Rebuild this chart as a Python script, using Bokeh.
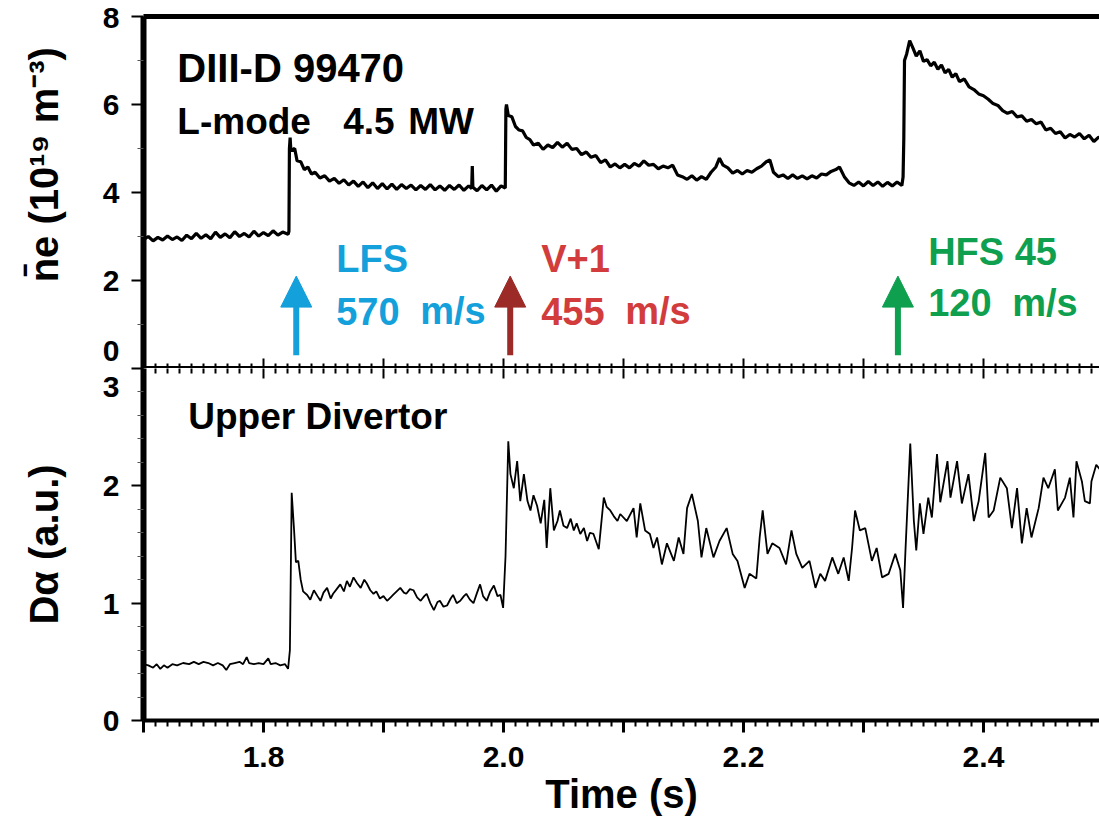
import numpy as np
from bokeh.plotting import figure
from bokeh.layouts import column
from bokeh.models import Range1d, LinearAxis, FixedTicker, Label, Arrow, NormalHead
from bokeh.embed import file_html
from bokeh.resources import INLINE

# ---------------- data ----------------
# line-averaged density (10^19 m^-3)
t_ne = [1.700, 1.704, 1.708, 1.712, 1.716, 1.720, 1.724, 1.728, 1.732, 1.736, 1.740, 1.744, 1.748, 1.752,
        1.756, 1.760, 1.764, 1.768, 1.772, 1.776, 1.780, 1.784, 1.788, 1.792, 1.796, 1.800, 1.804, 1.808,
        1.812, 1.816, 1.8205, 1.8212,
        1.8216, 1.8222, 1.8228, 1.8260, 1.8280, 1.8310, 1.8340, 1.8370, 1.8400, 1.8430, 1.8470, 1.8510,
        1.8550, 1.8590, 1.8630, 1.8670, 1.8710, 1.8750, 1.8790, 1.8830, 1.8870, 1.8910, 1.8950, 1.8990,
        1.9030, 1.9070, 1.9110, 1.9150, 1.9190, 1.9230, 1.9270, 1.9310, 1.9350, 1.9390, 1.9430, 1.9470,
        1.9510, 1.9550, 1.9590, 1.9630, 1.9670, 1.9710, 1.9735, 1.9740, 1.9745, 1.9780, 1.9820, 1.9860,
        1.9900, 1.9940, 1.9980, 2.0015,
        2.0020, 2.0025, 2.0040, 2.0070, 2.0100, 2.0130, 2.0160, 2.0190, 2.0220, 2.0250, 2.0290, 2.0330,
        2.0370, 2.0410, 2.0450, 2.0490, 2.0530, 2.0570, 2.0610, 2.0650, 2.0690, 2.0730, 2.0770, 2.0810,
        2.0850, 2.0890, 2.0930, 2.0970, 2.1010, 2.1050, 2.1090, 2.1130, 2.1170, 2.1210, 2.1250, 2.1290,
        2.1330, 2.1370, 2.1410, 2.1450, 2.1490, 2.1530, 2.1570, 2.1610, 2.1650, 2.1690, 2.1730, 2.1770,
        2.1800, 2.1830, 2.1870, 2.1910, 2.1950, 2.1990, 2.2030, 2.2070, 2.2110, 2.2150, 2.2190, 2.2220,
        2.2250, 2.2290, 2.2330, 2.2370, 2.2410, 2.2450, 2.2490, 2.2530, 2.2570, 2.2610, 2.2650, 2.2690,
        2.2730, 2.2770, 2.2800, 2.2840, 2.2880, 2.2920, 2.2960, 2.3000, 2.3040, 2.3080, 2.3120, 2.3160,
        2.3200, 2.3240, 2.3280, 2.3320, 2.3330,
        2.3336, 2.3342, 2.3360, 2.3385, 2.3410, 2.3440, 2.3470, 2.3500, 2.3530, 2.3560, 2.3590, 2.3620,
        2.3650, 2.3680, 2.3710, 2.3740, 2.3770, 2.3800, 2.3840, 2.3880, 2.3920, 2.3960, 2.4000, 2.4040,
        2.4080, 2.4120, 2.4160, 2.4200, 2.4240, 2.4280, 2.4320, 2.4360, 2.4400, 2.4440, 2.4480, 2.4520,
        2.4560, 2.4600, 2.4640, 2.4680, 2.4720, 2.4760, 2.4800, 2.4840, 2.4880, 2.4920, 2.4960, 2.5000]
ne = [2.93, 3.00, 2.90, 2.98, 2.92, 3.01, 2.93, 2.99, 2.91, 3.03, 2.95, 3.07, 2.96, 3.04,
      2.95, 3.10, 2.98, 3.06, 2.97, 3.11, 3.00, 3.07, 2.99, 3.12, 3.01, 3.09, 3.02, 3.13,
      3.03, 3.10, 3.05, 3.12,
      5.00, 5.25, 4.95, 5.00, 4.72, 4.70, 4.52, 4.58, 4.42, 4.46, 4.33, 4.38,
      4.26, 4.32, 4.21, 4.29, 4.17, 4.26, 4.14, 4.24, 4.11, 4.22, 4.09, 4.20,
      4.08, 4.19, 4.07, 4.18, 4.09, 4.17, 4.06, 4.16, 4.07, 4.18, 4.06, 4.15,
      4.05, 4.16, 4.07, 4.17, 4.05, 4.15, 4.09, 4.60, 4.12, 4.04, 4.16, 4.06,
      4.17, 4.03, 4.15, 4.10,
      5.90, 6.00, 5.75, 5.72, 5.50, 5.42, 5.40, 5.25, 5.20, 5.08, 5.12, 4.98,
      5.08, 5.02, 5.14, 5.03, 5.12, 4.98, 5.00, 4.86, 4.92, 4.80, 4.84, 4.68,
      4.74, 4.58, 4.65, 4.56, 4.64, 4.56, 4.66, 4.60, 4.72, 4.62, 4.64, 4.54,
      4.60, 4.56, 4.62, 4.40, 4.36, 4.30, 4.38, 4.28, 4.36, 4.30, 4.46, 4.58,
      4.78, 4.62, 4.56, 4.44, 4.50, 4.42, 4.50, 4.46, 4.54, 4.60, 4.70, 4.74,
      4.46, 4.36, 4.40, 4.32, 4.40, 4.32, 4.38, 4.31, 4.38, 4.33, 4.42, 4.40,
      4.48, 4.52, 4.58, 4.36, 4.22, 4.16, 4.24, 4.15, 4.25, 4.16, 4.24, 4.14,
      4.23, 4.15, 4.24, 4.16, 4.35,
      5.20, 7.00, 7.15, 7.45, 7.30, 7.10, 7.22, 6.98, 7.02, 6.88, 6.96, 6.80,
      6.90, 6.72, 6.80, 6.62, 6.70, 6.52, 6.58, 6.40, 6.34, 6.24, 6.20, 6.12,
      6.02, 5.98, 5.86, 5.80, 5.84, 5.72, 5.74, 5.62, 5.66, 5.56, 5.60, 5.42,
      5.46, 5.34, 5.38, 5.24, 5.32, 5.26, 5.34, 5.22, 5.30, 5.16, 5.26, 5.20]

# upper divertor D-alpha (a.u.)
t_da = [1.700, 1.704, 1.708, 1.711, 1.714, 1.717, 1.720, 1.724, 1.728, 1.733, 1.738, 1.742, 1.746, 1.750,
        1.754, 1.758, 1.762, 1.766, 1.769, 1.772, 1.776, 1.780, 1.783, 1.786, 1.788, 1.792, 1.796, 1.800,
        1.804, 1.806, 1.810, 1.814, 1.818, 1.8205, 1.8220, 1.8235, 1.8255, 1.8270, 1.8290, 1.8310, 1.8330,
        1.8364, 1.8390, 1.8420, 1.8450, 1.8475, 1.8500, 1.8530, 1.8560, 1.8580, 1.8610, 1.8640, 1.8670,
        1.8695, 1.8720, 1.8750, 1.8780, 1.8810, 1.8840, 1.8860, 1.8890, 1.8917, 1.8940, 1.8970, 1.9000,
        1.9030, 1.9060, 1.9080, 1.9110, 1.9140, 1.9170, 1.9190, 1.9220, 1.9250, 1.9280, 1.9310, 1.9340,
        1.9360, 1.9390, 1.9420, 1.9450, 1.9470, 1.9500, 1.9530, 1.9560, 1.9580, 1.9610, 1.9640, 1.9670,
        1.9690, 1.9720, 1.9750, 1.9780, 1.9805, 1.9830, 1.9860, 1.9890, 1.9920, 1.9950, 1.9975, 1.9997,
        2.0017, 2.0040, 2.0058, 2.0086, 2.0114, 2.0140, 2.0170, 2.0200, 2.0225, 2.0250, 2.0280, 2.0310,
        2.0340, 2.0360, 2.0390, 2.0420, 2.0450, 2.0470, 2.0500, 2.0530, 2.0560, 2.0586, 2.0610, 2.0640,
        2.0670, 2.0697, 2.0720, 2.0750, 2.0794, 2.0836, 2.0860, 2.0890, 2.0920, 2.0950, 2.0973, 2.1028,
        2.1084, 2.1110, 2.1140, 2.1180, 2.1220, 2.1250, 2.1280, 2.1320, 2.1362, 2.1420, 2.1460, 2.1500,
        2.1530, 2.1570, 2.1620, 2.1650, 2.1690, 2.1750, 2.1800, 2.1860, 2.1910, 2.1950, 2.2010, 2.2050,
        2.2107, 2.2135, 2.2160, 2.2200, 2.2240, 2.2300, 2.2355, 2.2400, 2.2440, 2.2490, 2.2550, 2.2600,
        2.2640, 2.2680, 2.2740, 2.2790, 2.2835, 2.2877, 2.2905, 2.2930, 2.2970, 2.3015, 2.3070, 2.3110,
        2.3155, 2.3210, 2.3265, 2.3307, 2.3330, 2.3350, 2.3390, 2.3420, 2.3440, 2.3470, 2.3500, 2.3540,
        2.3570, 2.3613, 2.3640, 2.3700, 2.3725, 2.3780, 2.3820, 2.3875, 2.3920, 2.3960, 2.4015, 2.4043,
        2.4085, 2.4140, 2.4195, 2.4237, 2.4280, 2.4320, 2.4360, 2.4400, 2.4460, 2.4500, 2.4540, 2.4595,
        2.4620, 2.4680, 2.4720, 2.4750, 2.4775, 2.4820, 2.4845, 2.4887, 2.4900, 2.4940, 2.5000]
da = [0.48, 0.47, 0.45, 0.48, 0.44, 0.47, 0.45, 0.48, 0.47, 0.49, 0.48, 0.50, 0.48, 0.50,
      0.49, 0.47, 0.49, 0.47, 0.43, 0.48, 0.49, 0.50, 0.48, 0.54, 0.49, 0.48, 0.49, 0.48,
      0.53, 0.48, 0.49, 0.47, 0.48, 0.44, 0.60, 1.94, 1.62, 1.35, 1.36, 1.20, 1.10,
      1.07, 1.03, 1.11, 1.06, 1.02, 1.09, 1.13, 1.04, 1.08, 1.12, 1.16, 1.10,
      1.19, 1.14, 1.22, 1.17, 1.13, 1.20, 1.17, 1.11, 1.08, 1.10, 1.04, 1.06,
      1.02, 1.05, 1.07, 1.10, 1.13, 1.09, 1.08, 1.12, 1.11, 1.05, 1.02, 1.06,
      1.08, 1.00, 0.94, 1.01, 1.02, 0.97, 0.98, 1.04, 1.07, 1.00, 1.02, 1.06,
      1.08, 1.03, 1.00, 1.09, 1.16, 1.06, 1.02, 1.10, 1.15, 1.06, 1.07, 0.96,
      1.40, 2.38, 2.10, 1.98, 2.21, 1.87, 2.10, 1.87, 1.79, 1.92, 1.83, 1.68,
      1.88, 1.47, 1.98, 1.62, 1.70, 1.79, 1.66, 1.64, 1.72, 1.62, 1.68, 1.59,
      1.64, 1.53, 1.60, 1.59, 1.46, 1.90, 1.82, 1.79, 1.74, 1.70, 1.76, 1.70,
      1.81, 1.56, 1.85, 1.62, 1.59, 1.47, 1.56, 1.33, 1.51, 1.36, 1.56, 1.42,
      1.81, 1.93, 1.70, 1.39, 1.64, 1.39, 1.53, 1.64, 1.42, 1.36, 1.13, 1.25,
      1.21, 1.56, 1.79, 1.42, 1.51, 1.47, 1.33, 1.62, 1.42, 1.30, 1.36, 1.13,
      1.25, 1.19, 1.39, 1.25, 1.39, 1.19, 1.47, 1.79, 1.62, 1.64, 1.36, 1.47,
      1.22, 1.25, 1.42, 1.28, 0.96, 1.45, 2.36, 1.70, 1.45, 1.85, 1.59, 1.90,
      1.73, 2.27, 1.86, 2.21, 1.90, 2.21, 1.85, 2.10, 1.70, 1.87, 2.28, 1.73,
      1.79, 2.07, 1.98, 1.64, 1.98, 1.51, 1.81, 1.56, 1.81, 2.07, 1.98, 2.14,
      1.79, 1.90, 2.07, 1.73, 2.21, 2.04, 1.87, 1.85, 2.04, 2.18, 2.10]

# pellet injections: time of arrow, launch location, speed (m/s)
pellet_t = [1.8273, 2.0056, 2.3287]
pellet_name = ["LFS", "V+1", "HFS 45"]
pellet_speed = ["570", "455", "120"]

ne_ticks = [0, 2, 4, 6, 8]
ne_minor = [1, 3, 5, 7]
da_ticks = [0, 1, 2, 3]
da_minor = [0.2, 0.4, 0.6, 0.8, 1.2, 1.4, 1.6, 1.8, 2.2, 2.4, 2.6, 2.8]
time_labels = {1.8: "1.8", 2.0: "2.0", 2.2: "2.2", 2.4: "2.4"}

# ---------------- styling ----------------
FONT = "Liberation Sans"
arrow_col = ["#14a0db", "#9c2b27", "#0e9f4f"]
text_col = ["#14a0db", "#d23c3c", "#0e9f4f"]
X0, X1 = 1.7, 2.4967
NB = "\u00a0"

major_t = [round(1.7 + 0.1 * i, 1) for i in range(9)]
minor_t = [round(1.7 + 0.01 * i, 2) for i in range(81) if i % 10]
overrides_x = {v: time_labels.get(v, "") for v in major_t}


def style_yaxis(ax, ticks, minors, label, overrides):
    ax.ticker = FixedTicker(ticks=ticks, minor_ticks=minors)
    ax.major_label_overrides = overrides
    ax.axis_line_width = 6
    ax.major_tick_out = 12
    ax.major_tick_in = 0
    ax.minor_tick_out = 6
    ax.minor_tick_in = 0
    ax.major_tick_line_width = 2
    ax.minor_tick_line_width = 1
    ax.minor_tick_line_color = "#555555"
    ax.major_label_text_font = FONT
    ax.major_label_text_font_style = "bold"
    ax.major_label_text_font_size = "30px"
    ax.major_label_text_color = "black"
    ax.major_label_text_line_height = 0.05
    ax.major_label_standoff = 12
    ax.axis_label = label
    ax.axis_label_text_font = FONT
    ax.axis_label_text_font_style = "bold"
    ax.axis_label_text_font_size = "40px"
    ax.axis_label_text_color = "black"
    ax.axis_label_standoff = 34


def inner_axes(fig, loc, line):
    # thick rule with short ticks every 0.01 s and longer ticks every 0.1 s, no labels
    a1 = LinearAxis(ticker=FixedTicker(ticks=[], minor_ticks=minor_t), minor_tick_in=5, minor_tick_out=0,
                    major_tick_in=0, major_tick_out=0, minor_tick_line_width=2,
                    axis_line_width=5 if line else 0, axis_line_color="black" if line else None,
                    major_label_standoff=0)
    a2 = LinearAxis(ticker=FixedTicker(ticks=[], minor_ticks=major_t), minor_tick_in=10, minor_tick_out=0,
                    major_tick_in=0, major_tick_out=0, minor_tick_line_width=2,
                    axis_line_color=None, major_label_standoff=0)
    fig.add_layout(a1, loc)
    fig.add_layout(a2, loc)


def text(fig, txt, x, y, size, color="black"):
    fig.add_layout(Label(x=x, y=y, text=txt, text_font=FONT, text_font_style="bold",
                         text_font_size=size, text_color=color, text_baseline="middle"))


# ---------------- top panel: density ----------------
p1 = figure(frame_width=956, frame_height=352, x_range=Range1d(X0, X1), y_range=Range1d(0, 8),
            min_border_left=143, min_border_right=0, min_border_top=16, min_border_bottom=0,
            x_axis_location=None, output_backend="svg", toolbar_location=None, outline_line_color=None)
p1.grid.visible = False
style_yaxis(p1.yaxis[0], ne_ticks, ne_minor,
            NB * 5 + "n\u0304e (10\u00b9\u2079 m\u207b\u00b3)", {0: "0\n" + NB})
inner_axes(p1, "below", True)
top_ax = LinearAxis(ticker=FixedTicker(ticks=[]), axis_line_width=5, major_tick_out=0, major_tick_in=0,
                    minor_tick_out=0, minor_tick_in=0, major_label_standoff=0)
p1.add_layout(top_ax, "above")

p1.line(t_ne, ne, line_color="black", line_width=3.2)

text(p1, "DIII-D 99470", 1.7282, 6.83, "40px")
text(p1, "L-mode", 1.7282, 5.62, "37px")
text(p1, "4.5", 1.8664, 5.62, "37px")
text(p1, "MW", 1.9206, 5.62, "37px")

name_x = [1.8606, 2.0314, 2.3539]
speed_x = [1.9306, 2.1014, 2.4239]
name_y = [2.48, 2.48, 2.64]
speed_y = [1.30, 1.30, 1.49]
for i in range(3):
    c = arrow_col[i]
    p1.add_layout(Arrow(end=NormalHead(size=31, fill_color=c, line_color=c, line_width=1),
                        x_start=pellet_t[i], y_start=0.3, x_end=pellet_t[i], y_end=2.1,
                        line_color=c, line_width=6))
    text(p1, pellet_name[i], name_x[i], name_y[i], "38px", text_col[i])
    text(p1, pellet_speed[i], name_x[i], speed_y[i], "38px", text_col[i])
    text(p1, "m/s", speed_x[i], speed_y[i], "38px", text_col[i])

# ---------------- bottom panel: D-alpha ----------------
p2 = figure(frame_width=956, frame_height=352, x_range=p1.x_range, y_range=Range1d(0, 3),
            min_border_left=143, min_border_right=0, min_border_top=0, min_border_bottom=100,
            output_backend="svg", toolbar_location=None, outline_line_color=None)
p2.grid.visible = False
style_yaxis(p2.yaxis[0], da_ticks, da_minor, "D\u03b1 (a.u.)", {3: NB + "\n3"})
xa = p2.xaxis[0]
xa.ticker = FixedTicker(ticks=major_t, minor_ticks=minor_t)
xa.major_label_overrides = overrides_x
xa.axis_line_width = 4
xa.major_tick_out = 12
xa.major_tick_in = 0
xa.minor_tick_out = 6
xa.minor_tick_in = 0
xa.major_tick_line_width = 3
xa.minor_tick_line_width = 2
xa.major_label_text_font = FONT
xa.major_label_text_font_style = "bold"
xa.major_label_text_font_size = "30px"
xa.major_label_text_color = "black"
xa.major_label_standoff = 14
xa.axis_label = "Time (s)"
xa.axis_label_text_font = FONT
xa.axis_label_text_font_style = "bold"
xa.axis_label_text_font_size = "40px"
xa.axis_label_text_color = "black"
xa.axis_label_standoff = 2

inner_axes(p2, "above", False)

p2.line(t_da, da, line_color="black", line_width=1.8)
text(p2, "Upper Divertor", 1.7373, 2.59, "37px")

layout = column(p1, p2, spacing=0)
open("out.html", "w").write(file_html(layout, INLINE))
